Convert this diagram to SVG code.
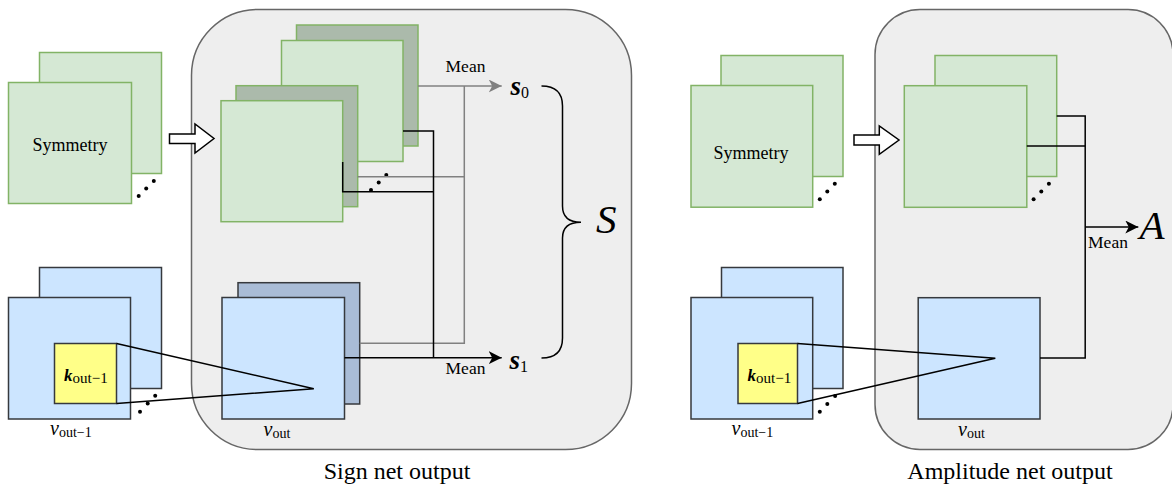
<svg xmlns="http://www.w3.org/2000/svg" width="1172" height="485" viewBox="0 0 1172 485">
<style>
.g{fill:#d5e8d4;stroke:#82b366;stroke-width:1.5}
.gd{fill:#abbaab;stroke:#82b366;stroke-width:1.5}
.b{fill:#cce5ff;stroke:#36393d;stroke-width:1.5}
.bd{fill:#a9bcd6;stroke:#36393d;stroke-width:1.5}
.y{fill:#ffff88;stroke:#36393d;stroke-width:1.5}
.cont{fill:#eeeeee;stroke:#666666;stroke-width:1.5}
.ln{fill:none;stroke:#000;stroke-width:1.5}
.lg{fill:none;stroke:#808080;stroke-width:1.5}
.hol{fill:#fff;stroke:#000;stroke-width:1.5}
.t{font-family:"Liberation Serif","Times New Roman","DejaVu Serif",serif;fill:#000}
.m{font-family:"Liberation Serif","Times New Roman","DejaVu Serif",serif;font-style:italic;fill:#000}
.mb{font-family:"Liberation Serif","Times New Roman","DejaVu Serif",serif;font-style:italic;font-weight:bold;fill:#000}
.dot{fill:#000}
</style>
<defs>
<marker id="ab" markerUnits="userSpaceOnUse" markerWidth="14" markerHeight="14" refX="13" refY="6.5" orient="auto">
<path d="M0,0 L13,6.5 L0,13 L3.5,6.5 Z" fill="#000"/>
</marker>
<marker id="ag" markerUnits="userSpaceOnUse" markerWidth="14" markerHeight="14" refX="13" refY="6.5" orient="auto">
<path d="M0,0 L13,6.5 L0,13 L3.5,6.5 Z" fill="#808080"/>
</marker>
</defs>

<!-- containers -->
<g id="sign-container"><rect class="cont" x="191.5" y="9.5" width="440" height="440" rx="66" ry="66"/></g>
<g id="amp-container"><rect class="cont" x="875" y="9.5" width="298" height="440" rx="45" ry="45"/></g>

<!-- LEFT PANEL -->
<g id="sym-left">
<rect class="g" x="39.5" y="52.5" width="122" height="121"/>
<rect class="g" x="8.5" y="82.5" width="123" height="121"/>
<text class="t" x="70" y="151" font-size="18" text-anchor="middle">Symmetry</text>
<circle class="dot" cx="138.7" cy="196" r="2"/><circle class="dot" cx="146.2" cy="188.4" r="2"/><circle class="dot" cx="153.8" cy="181" r="2"/>
</g>

<g id="hollow-left"><path class="hol" d="M169.5,134 L195,134 L195,124 L214,138.5 L195,153 L195,143.5 L169.5,143.5 Z"/></g>

<g id="vprev-left">
<rect class="b" x="39.5" y="267.5" width="122" height="121"/>
<rect class="b" x="8.5" y="297.5" width="122" height="121.5"/>
<rect class="y" x="54.5" y="343.5" width="62" height="60"/>
<text x="64" y="380.5"><tspan class="mb" font-size="17">k</tspan><tspan class="t" font-size="15" dy="2">out−1</tspan></text>
<circle class="dot" cx="140" cy="411.7" r="2"/><circle class="dot" cx="147.7" cy="403.5" r="2"/><circle class="dot" cx="155.2" cy="395.7" r="2"/>
<text x="50" y="435"><tspan class="m" font-size="20">v</tspan><tspan class="t" font-size="14" dy="2">out−1</tspan></text>
</g>

<g id="green-stack-left">
<rect class="gd" x="296.5" y="25" width="121.5" height="121"/>
<rect class="g" x="281.5" y="40.5" width="121.5" height="121"/>
<rect class="gd" x="236" y="85.7" width="121.7" height="121"/>
<rect class="g" x="221" y="100.7" width="121.7" height="121"/>
<circle class="dot" cx="371" cy="190" r="2"/><circle class="dot" cx="378.7" cy="182.6" r="2"/><circle class="dot" cx="386.3" cy="175" r="2"/>
</g>

<g id="vout-left">
<rect class="bd" x="238" y="282.7" width="121.7" height="121.3"/>
<rect class="b" x="222" y="297.5" width="122.5" height="121.5"/>
<text x="263.5" y="435.5"><tspan class="m" font-size="20">v</tspan><tspan class="t" font-size="14" dy="2">out</tspan></text>
</g>

<g id="outputs-left">
<text x="510.5" y="95"><tspan class="mb" font-size="27">s</tspan><tspan class="t" font-size="16" dy="3">0</tspan></text>
<text x="509.5" y="369"><tspan class="mb" font-size="27">s</tspan><tspan class="t" font-size="16" dy="3">1</tspan></text>
<path class="ln" d="M541.5,86 Q562.5,86 562.5,106 L562.5,206 Q562.5,222.3 581,222.3 Q562.5,222.3 562.5,238 L562.5,338 Q562.5,358 541.5,358"/>
<text class="m" x="596" y="233" font-size="41">S</text>
<text class="t" x="465.5" y="71.5" font-size="17.5" text-anchor="middle">Mean</text>
<text class="t" x="465.5" y="374" font-size="17.5" text-anchor="middle">Mean</text>
<text class="t" x="397" y="479" font-size="24" text-anchor="middle">Sign net output</text>
</g>

<!-- RIGHT PANEL -->
<g id="sym-right">
<rect class="g" x="721" y="55.5" width="122" height="121"/>
<rect class="g" x="691" y="85.5" width="121.7" height="121.7"/>
<text class="t" x="751" y="158.5" font-size="18" text-anchor="middle">Symmetry</text>
<circle class="dot" cx="819.8" cy="199.3" r="2"/><circle class="dot" cx="827.3" cy="191.6" r="2"/><circle class="dot" cx="834.8" cy="183.8" r="2"/>
</g>

<g id="hollow-right"><path class="hol" d="M854,135 L879.3,135 L879.3,126 L899,140 L879.3,154.3 L879.3,145 L854,145 Z"/></g>

<g id="vprev-right">
<rect class="b" x="721.5" y="267.5" width="121.5" height="121"/>
<rect class="b" x="691" y="297.5" width="121.7" height="121.5"/>
<rect class="y" x="738" y="343.5" width="59.5" height="60"/>
<text x="747.5" y="380.5"><tspan class="mb" font-size="17">k</tspan><tspan class="t" font-size="15" dy="2">out−1</tspan></text>
<circle class="dot" cx="819.8" cy="411.7" r="2"/><circle class="dot" cx="827.3" cy="404" r="2"/><circle class="dot" cx="835.1" cy="396" r="2"/>
<text x="731.5" y="435"><tspan class="m" font-size="20">v</tspan><tspan class="t" font-size="14" dy="2">out−1</tspan></text>
</g>

<g id="green-stack-right">
<rect class="g" x="935" y="55.5" width="121.7" height="121"/>
<rect class="g" x="904.3" y="85.7" width="122.5" height="121.6"/>
<circle class="dot" cx="1033.6" cy="199.3" r="2"/><circle class="dot" cx="1041.3" cy="191.6" r="2"/><circle class="dot" cx="1048.9" cy="183.8" r="2"/>
</g>

<g id="vout-right">
<rect class="b" x="918.2" y="297.7" width="121.8" height="121.3"/>
<text x="958" y="435.5"><tspan class="m" font-size="20">v</tspan><tspan class="t" font-size="14" dy="2">out</tspan></text>
</g>

<g id="outputs-right">
<text class="m" x="1139.5" y="239" font-size="41">A</text>
<text class="t" x="1108" y="248" font-size="17.5" text-anchor="middle">Mean</text>
<text class="t" x="1010" y="479" font-size="24" text-anchor="middle">Amplitude net output</text>
</g>

<!-- CONNECTORS -->
<g id="connectors">
<path class="ln" d="M116.5,343.5 L313.8,388.7 L116.5,403.5"/>
<path class="lg" d="M418,86 L501.7,86" marker-end="url(#ag)"/>
<path class="lg" d="M464.3,86 L464.3,343.3 L359.7,343.3"/>
<path class="lg" d="M357.7,176.7 L464.3,176.7"/>
<path class="ln" d="M403,131 L433.5,131 L433.5,357.7"/>
<path class="ln" d="M342.7,162 L342.7,191.7 L433.5,191.7"/>
<path class="ln" d="M344.5,357.7 L501.7,357.7" marker-end="url(#ab)"/>
<path class="ln" d="M797.5,343.5 L995.3,358.3 L797.5,403.5"/>
<path class="ln" d="M1056.7,116 L1085.2,116 L1085.2,358 L1040,358"/>
<path class="ln" d="M1026.8,146 L1085.2,146"/>
<path class="ln" d="M1085.2,227 L1138.3,227" marker-end="url(#ab)"/>
</g>
</svg>
